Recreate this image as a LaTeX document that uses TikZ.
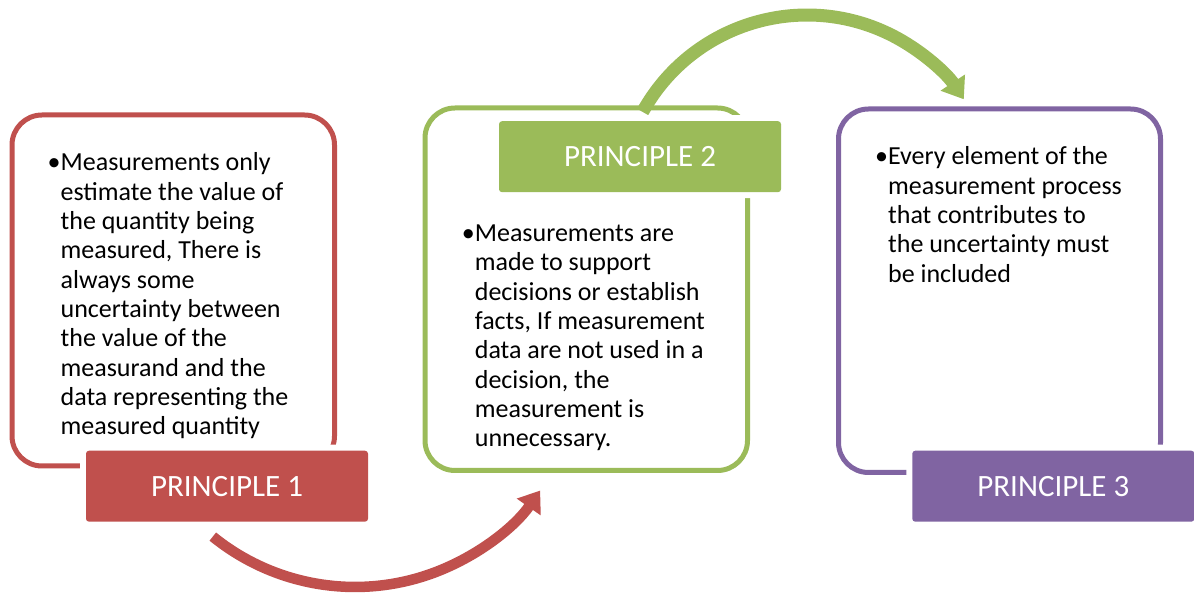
\documentclass[tikz,border=0pt]{standalone}
\usepackage{fontspec}
\setmainfont{Carlito}
\usetikzlibrary{arrows.meta}

\definecolor{prred}{HTML}{C0504D}
\definecolor{prgreen}{HTML}{9BBB59}
\definecolor{prpurple}{HTML}{8064A2}

\newcommand{\bulletlines}[2]{%
  \begin{tabular}[t]{@{}l@{}l@{}}\textbullet & #1\\ #2\end{tabular}}

\begin{document}
\begin{tikzpicture}[x=1pt, y=1pt,
    outer_box/.style={draw=#1, line width=5pt, rounded corners=30pt},
    title_box/.style={fill=#1, text=white, rounded corners=3pt,
      minimum width=282pt, minimum height=71pt, inner sep=0pt,
      font=\fontsize{31}{37}\selectfont,
      preaction={draw=white, line width=12pt}},
    body_text/.style={anchor=base west, inner sep=0pt,
      font=\fontsize{26}{29.3}\selectfont},
    cycle_arrow/.style={draw=#1, -{Triangle[width=28pt, length=20pt]}}
  ]
  \useasboundingbox (0,0) rectangle (1194,594);

  % --- Outer frames ---
  \draw[outer_box=prred] (12,479) rectangle (334.5,128);
  \draw[outer_box=prgreen] (425,486) rectangle (747.5,123.5);
  \draw[outer_box=prpurple] (838.5,485) rectangle (1160.5,121.5);

  % --- Arrows between the steps ---
  \coordinate (a1) at (212.8,57.4);
  \coordinate (a2) at (642.6,482.1);
  \draw[cycle_arrow=prred, line width=10.5pt]
    (a1) arc[start angle=231, end angle=325, radius=226];
  \draw[cycle_arrow=prgreen, line width=13pt]
    (a2) arc[start angle=151, end angle=33.5, radius=188];

  % --- Titles ---
  \node[title_box=prred] (p1) at (227,107.8) {PRINCIPLE 1};
  \node[title_box=prgreen] (p2) at (640,437.3) {PRINCIPLE 2};
  \node[title_box=prpurple] (p3) at (1053.3,107.8) {PRINCIPLE 3};

  % --- Body text ---
  \node[body_text] (t1) at (47.5,423) {\bulletlines{Measurements only}{%
    & estimate the value of\\ & the quantity being\\ & measured, There is\\
    & always some\\ & uncertainty between\\ & the value of the\\
    & measurand and the\\ & data representing the\\ & measured quantity}};
  \node[body_text] (t2) at (461.7,352.3) {\bulletlines{Measurements are}{%
    & made to support\\ & decisions or establish\\ & facts, If measurement\\
    & data are not used in a\\ & decision, the\\ & measurement is\\
    & unnecessary.}};
  \node[body_text] (t3) at (875,429) {\bulletlines{Every element of the}{%
    & measurement process\\ & that contributes to\\
    & the uncertainty must\\ & be included}};
\end{tikzpicture}
\end{document}
